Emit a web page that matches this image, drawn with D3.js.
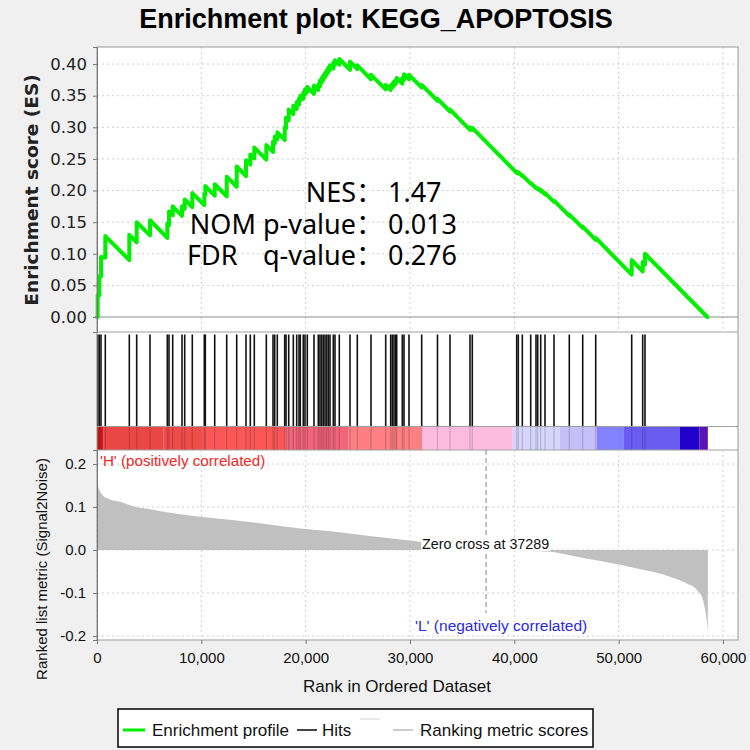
<!DOCTYPE html>
<html><head><meta charset="utf-8">
<script src="https://cdn.jsdelivr.net/npm/d3@7"></script>
<style>body{margin:0;background:#f0f0f0;} svg{display:block;}</style>
</head><body>
<svg id="c" width="750" height="750"></svg>
<script>
// ---------------- data ----------------
const title = "Enrichment plot: KEGG_APOPTOSIS";
const totalGenes = 58550;
const hitRanks = [67,220,383,796,3096,3805,5080,6738,6901,7256,8147,8406,9135,10285,10381,11282,12432,13390,14282,14694,15077,16228,16870,17033,17282,17991,18116,18375,18816,19141,19362,19486,19774,19937,20157,20799,21211,21374,21537,21690,21853,22016,22170,22333,22649,22812,23224,24250,24949,26263,27672,28151,28304,28467,28630,28726,29263,29426,29905,31122,32636,33835,35752,35972,40228,40381,40765,41570,42078,42241,42529,42941,43803,45270,46555,47801,51251,52305,52526];
const esBefore = [0.000,0.034,0.064,0.094,0.090,0.118,0.129,0.125,0.145,0.161,0.160,0.171,0.174,0.177,0.193,0.192,0.191,0.206,0.223,0.241,0.251,0.249,0.261,0.274,0.281,0.280,0.298,0.311,0.321,0.329,0.336,0.343,0.345,0.352,0.356,0.353,0.359,0.365,0.371,0.375,0.379,0.383,0.387,0.391,0.393,0.399,0.399,0.391,0.392,0.376,0.360,0.359,0.363,0.366,0.369,0.373,0.369,0.375,0.376,0.363,0.342,0.325,0.296,0.296,0.228,0.227,0.223,0.211,0.204,0.202,0.199,0.194,0.182,0.160,0.141,0.122,0.067,0.072,0.083];
const esAfter = [0.035,0.065,0.095,0.128,0.130,0.150,0.153,0.148,0.167,0.175,0.175,0.186,0.196,0.195,0.207,0.210,0.222,0.238,0.248,0.257,0.268,0.272,0.277,0.285,0.292,0.300,0.315,0.328,0.334,0.340,0.345,0.350,0.355,0.360,0.364,0.366,0.368,0.374,0.378,0.382,0.386,0.390,0.394,0.398,0.402,0.406,0.408,0.404,0.398,0.383,0.367,0.366,0.369,0.372,0.375,0.378,0.378,0.384,0.383,0.367,0.345,0.328,0.300,0.299,0.230,0.229,0.224,0.212,0.205,0.204,0.201,0.196,0.184,0.162,0.143,0.125,0.090,0.087,0.100];
const esEnd = [58498, 0];
const metricRanks = [0,100,300,600,1200,2200,3450,5080,6700,9900,13000,16300,19500,22600,25900,31000,37289,43400,45300,48500,51760,54920,56550,57510,58085,58300,58450,58550];
const metricValues = [0.17,0.15,0.136,0.126,0.118,0.112,0.102,0.095,0.088,0.0775,0.07,0.06,0.05,0.043,0.033,0.019,0,-0.004,-0.012,-0.027,-0.043,-0.062,-0.078,-0.093,-0.116,-0.14,-0.165,-0.19];
const barStops = [0,640,6390,10065,18050,24070,31120,39850,44380,47900,50450,55880,57730,58550];
const barColors = ["#d81a1a","#ea4646","#ef4c4c","#fb5757","#f2647a","#fd7f82","#fdbbe0","#d6d6fc","#c7bff8","#8282ff","#6a5cf0","#2200cc","#5a14b4"];
const xTicks = [0,10000,20000,30000,40000,50000,60000];
const esTicks = [0,0.05,0.10,0.15,0.20,0.25,0.30,0.35,0.40];
const metricTicks = [-0.2,-0.1,0,0.1,0.2];
const zeroCross = 37289;
const statNames = ["NES：","NOM p-value：","q-value："];
const statValues = ["1.47","0.013","0.276"];
const legendLabels = ["Enrichment profile","Hits","Ranking metric scores"];

// ---------------- layout ----------------
const L = 97, R = 738, T = 47, topB = 332, hitsT = 334.5, barT = 426.5, barB = 450, B = 640;
const svg = d3.select("#c");
svg.append("rect").attr("width",750).attr("height",750).attr("fill","#f0f0f0");

const x = d3.scaleLinear().domain([0, 61440]).range([L, R]);
const yES = d3.scaleLinear().domain([-0.0237, 0.427]).range([topB, T]);
const yM = d3.scaleLinear().domain([-0.2093, 0.2326]).range([B, barB]);

svg.append("text").attr("x",376).attr("y",28).attr("text-anchor","middle")
  .attr("font-family","Liberation Sans, Arial, sans-serif").attr("font-weight","bold")
  .attr("font-size",27).attr("fill","#000").text(title);

svg.append("rect").attr("x",L).attr("y",T).attr("width",R-L).attr("height",B-T).attr("fill","#fff");

const gridColor = "#cfcfcf";
// top grid
const g1 = svg.append("g");
xTicks.forEach(t => g1.append("line").attr("x1",x(t)).attr("x2",x(t)).attr("y1",T).attr("y2",topB)
  .attr("stroke",gridColor).attr("stroke-dasharray","2,3"));
esTicks.filter(t=>t>0).forEach(t => g1.append("line").attr("x1",L).attr("x2",R).attr("y1",yES(t)).attr("y2",yES(t))
  .attr("stroke",gridColor).attr("stroke-dasharray","2,3"));
g1.append("line").attr("x1",L).attr("x2",R).attr("y1",yES(0)).attr("y2",yES(0)).attr("stroke","#8a8a8a").attr("stroke-width",1);

// ES curve
const esPts = [[0,0]];
hitRanks.forEach((r,i)=>{ esPts.push([r,esBefore[i]]); esPts.push([r,esAfter[i]]); });
esPts.push(esEnd);
svg.append("path").datum(esPts)
  .attr("d", d3.line().x(d=>x(d[0])).y(d=>yES(d[1])))
  .attr("fill","none").attr("stroke","#00f000").attr("stroke-width",4).attr("stroke-linejoin","round").attr("stroke-linecap","round");

// stats
const statFont = "'Noto Sans', 'Noto Sans CJK SC', sans-serif";
const statY = [201.5, 233.5, 265];
const colonRight = 383, valueX = 388;
statNames.forEach((s,i)=>{
  svg.append("text").attr("x",colonRight).attr("y",statY[i]).attr("text-anchor","end")
    .attr("font-family",statFont).attr("font-size",27).attr("fill","#000").text(s);
  svg.append("text").attr("x",valueX).attr("y",statY[i])
    .attr("font-family",statFont).attr("font-size",27).attr("fill","#000").text(statValues[i]);
});
svg.append("text").attr("x",187).attr("y",statY[2])
  .attr("font-family",statFont).attr("font-size",27).attr("fill","#000").text("FDR");

// hits
const gh = svg.append("g");
hitRanks.forEach(r => gh.append("line").attr("x1",x(r)).attr("x2",x(r)).attr("y1",hitsT).attr("y2",barT)
  .attr("stroke","#111").attr("stroke-width",1.6));

// colour bar
barColors.forEach((c,i)=> svg.append("rect").attr("x",x(barStops[i])).attr("y",barT)
  .attr("width",x(barStops[i+1])-x(barStops[i])).attr("height",barB-barT).attr("fill",c));
hitRanks.forEach(r => svg.append("line").attr("x1",x(r)).attr("x2",x(r)).attr("y1",barT).attr("y2",barB)
  .attr("stroke","#000").attr("stroke-opacity",0.18).attr("stroke-width",1.2));

// separators
[topB, barT, barB].forEach(yy => svg.append("line").attr("x1",L).attr("x2",R).attr("y1",yy).attr("y2",yy)
  .attr("stroke","#a0a0a0").attr("stroke-width",1));

// bottom grid
const g2 = svg.append("g");
xTicks.forEach(t => g2.append("line").attr("x1",x(t)).attr("x2",x(t)).attr("y1",barB).attr("y2",B)
  .attr("stroke",gridColor).attr("stroke-dasharray","2,3"));
metricTicks.forEach(t => g2.append("line").attr("x1",L).attr("x2",R).attr("y1",yM(t)).attr("y2",yM(t))
  .attr("stroke",gridColor).attr("stroke-dasharray","2,3"));

// metric area
const mPts = metricRanks.map((r,i)=>[r,metricValues[i]]);
svg.append("path").datum(mPts)
  .attr("d", d3.area().x(d=>x(d[0])).y0(yM(0)).y1(d=>yM(d[1])).curve(d3.curveMonotoneX))
  .attr("fill","#c0c0c0");

// zero cross line
svg.append("line").attr("x1",x(zeroCross)).attr("x2",x(zeroCross)).attr("y1",barB).attr("y2",613)
  .attr("stroke","#8a8a8a").attr("stroke-dasharray","5,3").attr("stroke-width",1);

const lblFont = "Liberation Sans, Arial, sans-serif";
const zc = svg.append("g");
const zt = zc.append("text").attr("x",422).attr("y",549).attr("font-family",lblFont).attr("font-size",14.3)
  .attr("fill","#111").text("Zero cross at " + zeroCross);
const bb = zt.node().getBBox();
zc.insert("rect","text").attr("x",bb.x-1).attr("y",bb.y+1).attr("width",bb.width+2).attr("height",bb.height-2).attr("fill","#fff");

svg.append("text").attr("x",100).attr("y",466).attr("font-family",lblFont).attr("font-size",15.2)
  .attr("fill","#f02828").text("'H' (positively correlated)");
svg.append("text").attr("x",415).attr("y",631).attr("font-family",lblFont).attr("font-size",15.5)
  .attr("fill","#2a2ae8").text("'L' (negatively correlated)");

// frame
svg.append("rect").attr("x",L).attr("y",T).attr("width",R-L).attr("height",B-T)
  .attr("fill","none").attr("stroke","#9a9a9a").attr("stroke-width",1);

// axes
const axTop = svg.append("g").attr("transform",`translate(${L},0)`)
  .call(d3.axisLeft(yES).tickValues(esTicks).tickFormat(d=>d.toFixed(2)).tickSize(4).tickPadding(6));
axTop.select(".domain").attr("stroke","#777");
axTop.selectAll(".tick line").attr("stroke","#777");
axTop.selectAll("text").attr("font-family","DejaVu Sans, sans-serif").attr("font-size",16.5).attr("fill","#222");

const axBot = svg.append("g").attr("transform",`translate(${L},0)`)
  .call(d3.axisLeft(yM).tickValues(metricTicks).tickFormat(d=>d.toFixed(1)).tickSize(4).tickPadding(7));
axBot.select(".domain").attr("stroke","#777");
axBot.selectAll(".tick line").attr("stroke","#777");
axBot.selectAll("text").attr("font-family",lblFont).attr("font-size",15).attr("fill","#111");

const axX = svg.append("g").attr("transform",`translate(0,${B})`)
  .call(d3.axisBottom(x).tickValues(xTicks).tickFormat(d3.format(",")).tickSize(4).tickPadding(8));
axX.select(".domain").remove();
axX.selectAll(".tick line").attr("stroke","#777");
axX.selectAll("text").attr("font-family",lblFont).attr("font-size",15).attr("fill","#111");

// axis titles
svg.append("text").attr("transform","translate(38,190) rotate(-90)").attr("text-anchor","middle")
  .attr("font-family","DejaVu Sans, sans-serif").attr("font-weight","bold").attr("font-size",18.5)
  .attr("fill","#222").text("Enrichment score (ES)");
svg.append("text").attr("transform","translate(47,569) rotate(-90)").attr("text-anchor","middle")
  .attr("font-family",lblFont).attr("font-size",15).attr("fill","#111").text("Ranked list metric (Signal2Noise)");
svg.append("text").attr("x",397).attr("y",692).attr("text-anchor","middle")
  .attr("font-family",lblFont).attr("font-size",17).attr("fill","#111").text("Rank in Ordered Dataset");

// legend
const lg = svg.append("g");
lg.append("rect").attr("x",118).attr("y",709).attr("width",475).attr("height",38)
  .attr("fill","#fff").attr("stroke","#000").attr("stroke-width",1.5);
lg.append("line").attr("x1",123).attr("x2",145).attr("y1",730).attr("y2",730).attr("stroke","#00f000").attr("stroke-width",3);
lg.append("text").attr("x",152).attr("y",736).attr("font-family",lblFont).attr("font-size",17).attr("fill","#111").text(legendLabels[0]);
lg.append("line").attr("x1",297).attr("x2",317).attr("y1",730).attr("y2",730).attr("stroke","#444").attr("stroke-width",2);
lg.append("text").attr("x",322).attr("y",736).attr("font-family",lblFont).attr("font-size",17).attr("fill","#111").text(legendLabels[1]);
lg.append("line").attr("x1",360).attr("x2",380).attr("y1",719).attr("y2",719).attr("stroke","#e8e8e8").attr("stroke-width",2);
lg.append("line").attr("x1",393).attr("x2",413).attr("y1",730).attr("y2",730).attr("stroke","#cccccc").attr("stroke-width",2);
lg.append("text").attr("x",420).attr("y",736).attr("font-family",lblFont).attr("font-size",17).attr("fill","#111").text(legendLabels[2]);
</script>
</body></html>
